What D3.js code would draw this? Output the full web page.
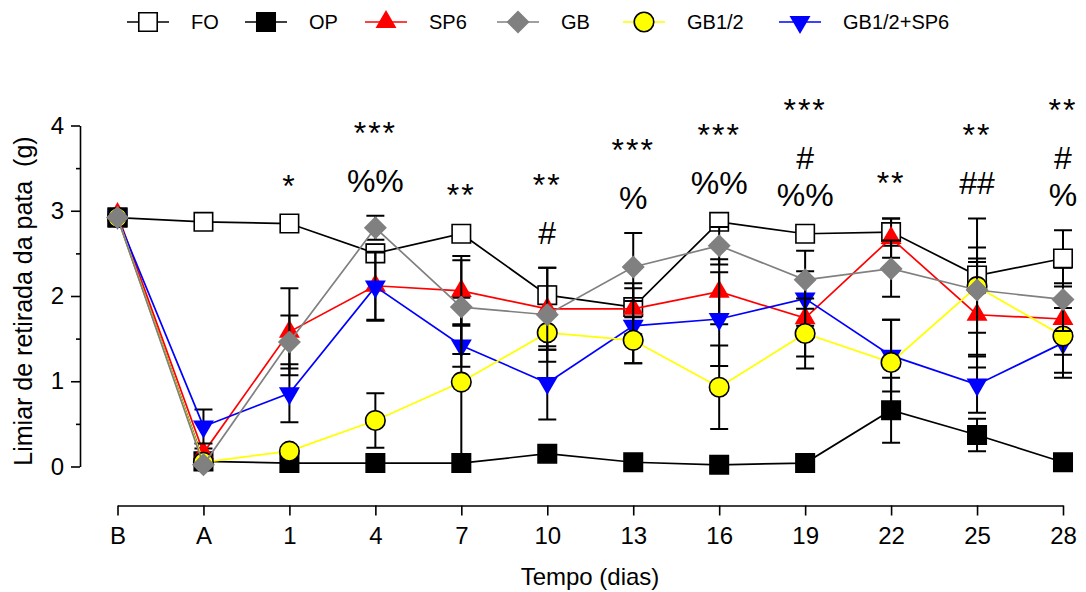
<!DOCTYPE html>
<html>
<head>
<meta charset="utf-8">
<script src="https://cdn.jsdelivr.net/npm/d3@7.9.0/dist/d3.min.js"></script>
<style>
  body { margin: 0; background: #fff; }
  svg text { font-family: "Liberation Sans", Arial, sans-serif; fill: #000; }
</style>
</head>
<body>
<svg width="1086" height="592"></svg>
<script>
const days = ['B', 'A', '1', '4', '7', '10', '13', '16', '19', '22', '25', '28'];

const foMean = [2.92, 2.87, 2.85, 2.50, 2.73, 2.01, 1.87, 2.87, 2.73, 2.75, 2.24, 2.44];
const foSem  = [0.03, 0.03, 0.03, 0.10, 0.05, 0.10, 0.08, 0.05, 0.05, 0.16, 0.20, 0.33];
const opMean = [2.92, 0.06, 0.04, 0.04, 0.04, 0.15, 0.05, 0.02, 0.04, 0.66, 0.37, 0.05];
const opSem  = [0.03, 0.05, 0.02, 0.02, 0.02, 0.04, 0.03, 0.02, 0.02, 0.38, 0.19, 0.03];
const sp6Mean = [2.96, 0.16, 1.58, 2.12, 2.06, 1.85, 1.85, 2.05, 1.74, 2.68, 1.78, 1.73];
const sp6Sem  = [0.03, 0.05, 0.51, 0.40, 0.41, 0.48, 0.30, 0.38, 0.45, 0.23, 0.62, 0.42];
const gbMean = [2.92, 0.02, 1.46, 2.80, 1.87, 1.78, 2.34, 2.59, 2.19, 2.32, 2.07, 1.96];
const gbSem  = [0.03, 0.02, 0.31, 0.14, 0.55, 0.55, 0.40, 0.22, 0.34, 0.33, 0.50, 0.37];
const halfMean = [2.92, 0.05, 0.18, 0.54, 0.99, 1.57, 1.48, 0.93, 1.56, 1.22, 2.11, 1.53];
const halfSem  = [0.03, 0.02, 0.05, 0.32, 0.99, 0.20, 0.27, 0.49, 0.41, 0.50, 0.80, 0.43];
const comboMean = [2.92, 0.47, 0.86, 2.11, 1.42, 0.98, 1.65, 1.73, 1.97, 1.30, 0.96, 1.45];
const comboSem  = [0.03, 0.20, 0.34, 0.40, 0.25, 0.43, 0.44, 0.55, 0.32, 0.42, 0.33, 0.41];

// significance marks above each day, top line first
const marks = [[], [], ['*'], ['***', '%%'], ['**'], ['**', '#'], ['***', '%'],
  ['***', '%%'], ['***', '#', '%%'], ['**'], ['**', '##'], ['**', '#', '%']];

const yTicks = [0, 1, 2, 3, 4];
const yMinor = [0.5, 1.5, 2.5, 3.5];

const font = '"Liberation Sans", Arial, sans-serif';
const svg = d3.select('svg');

let x = d3.scalePoint().domain(days).range([117.5, 1063]);
let y = d3.scaleLinear().domain([0, 4]).range([466.5, 125.5]);

let series = [
  { name: 'FO', mean: foMean, sem: foSem, color: '#000', fill: '#fff', stroke: '#000', shape: d3.symbolSquare, size: 340, rot: 0 },
  { name: 'OP', mean: opMean, sem: opSem, color: '#000', fill: '#000', stroke: '#000', shape: d3.symbolSquare, size: 340, rot: 0 },
  { name: 'SP6', mean: sp6Mean, sem: sp6Sem, color: '#ff0000', fill: '#ff0000', stroke: 'none', shape: d3.symbolTriangle, size: 190, rot: 0 },
  { name: 'GB', mean: gbMean, sem: gbSem, color: '#808080', fill: '#808080', stroke: 'none', shape: d3.symbolSquare, size: 265, rot: 45 },
  { name: 'GB1/2', mean: halfMean, sem: halfSem, color: '#ffff00', fill: '#ffff00', stroke: '#000', shape: d3.symbolCircle, size: 300, rot: 0 },
  { name: 'GB1/2+SP6', mean: comboMean, sem: comboSem, color: '#0000ff', fill: '#0000ff', stroke: 'none', shape: d3.symbolTriangle, size: 190, rot: 180 },
];

// drawing order seen in the figure (later ones on top)
let drawOrder = ['FO', 'OP', 'SP6', 'GB1/2+SP6', 'GB1/2', 'GB'];

let plot = svg.append('g');
drawOrder.forEach((name) => {
  let s = series.find((d) => d.name === name);
  let g = plot.append('g');
  let pts = days.map((day, i) => ({ day, m: s.mean[i], e: s.sem[i] }));

  // error bars
  pts.filter((p) => p.e > 0).forEach((p) => {
    let cx = x(p.day), y0 = y(p.m - p.e), y1 = y(p.m + p.e);
    g.append('path')
      .attr('d', `M${cx},${y0}V${y1}M${cx - 9},${y0}H${cx + 9}M${cx - 9},${y1}H${cx + 9}`)
      .attr('stroke', '#000').attr('stroke-width', 2).attr('fill', 'none');
  });

  let line = d3.line().x((p) => x(p.day)).y((p) => y(p.m));
  g.append('path').attr('d', line(pts))
    .attr('fill', 'none').attr('stroke', s.color).attr('stroke-width', 1.7);

  let sym = d3.symbol().type(s.shape).size(s.size);
  g.selectAll('path.mk').data(pts).join('path')
    .attr('class', 'mk')
    .attr('d', sym())
    .attr('transform', (p) => `translate(${x(p.day)},${y(p.m)}) rotate(${s.rot})`)
    .attr('fill', s.fill).attr('stroke', s.stroke).attr('stroke-width', 1.6);
});

// y axis (offset to the left)
svg.append('g').attr('transform', 'translate(80,0)')
  .call(d3.axisLeft(y).tickValues(yTicks).tickFormat(d3.format('d')).tickSize(9).tickSizeOuter(0).tickPadding(7));
svg.append('g').attr('transform', 'translate(80,0)')
  .call(d3.axisLeft(y).tickValues(yMinor).tickFormat('').tickSize(4))
  .call((g) => g.select('.domain').remove());

// x axis (offset below)
svg.append('g').attr('transform', 'translate(0,505.5)')
  .call(d3.axisBottom(x).tickSize(10).tickSizeOuter(0).tickPadding(11));

svg.selectAll('.tick line, .domain').attr('stroke', '#000').attr('stroke-width', 1.6);
svg.selectAll('.tick text').attr('font-family', font).attr('font-size', 24).attr('fill', '#000');

svg.append('text')
  .attr('transform', 'translate(32,301) rotate(-90)')
  .attr('text-anchor', 'middle').attr('font-size', 25)
  .style('white-space', 'pre')
  .text('Limiar de retirada da pata  (g)');

svg.append('text')
  .attr('x', 590).attr('y', 585)
  .attr('text-anchor', 'middle').attr('font-size', 24)
  .text('Tempo (dias)');

// significance marks, stacked upward from just above the highest error bar
marks.forEach((lines, i) => {
  if (!lines.length) return;
  let top = d3.max(series, (s) => s.mean[i] + s.sem[i]);
  let base = y(top) - 24;
  for (let k = lines.length - 1; k >= 0; k--) {
    svg.append('text')
      .attr('x', x(days[i])).attr('y', base)
      .attr('text-anchor', 'middle').attr('font-size', 32)
      .attr('letter-spacing', lines[k].startsWith('*') ? 2 : 0)
      .text(lines[k]);
    if (k > 0) base -= lines[k - 1].startsWith('*') ? 48 : 37;
  }
});

// legend
let legendX = [148, 266, 386, 518, 644, 800];
let legend = svg.append('g');
series.forEach((s, idx) => {
  let cx = legendX[idx];
  let item = legend.append('g').attr('transform', `translate(${cx},22)`);
  item.append('line').attr('x1', -21).attr('x2', 21)
    .attr('stroke', s.color).attr('stroke-width', 1.7);
  item.append('path').attr('d', d3.symbol().type(s.shape).size(s.size)())
    .attr('transform', `rotate(${s.rot})`)
    .attr('fill', s.fill).attr('stroke', s.stroke).attr('stroke-width', 1.6);
  item.append('text').attr('x', 43).attr('y', 7).attr('font-size', 20).text(s.name);
});
</script>
</body>
</html>
